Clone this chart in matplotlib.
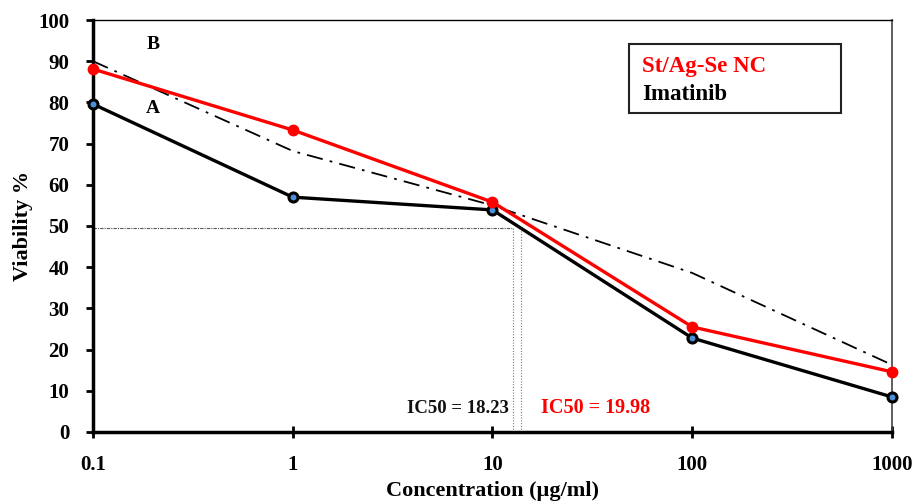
import matplotlib.pyplot as plt
import numpy as np

# concentrations (ug/ml) and viability values
conc = [0.1, 1, 10, 100, 1000]
nc_viability = [88.1, 73.3, 55.8, 25.5, 14.6]       # St/Ag-Se NC (red)
imatinib_viability = [79.6, 57.0, 53.9, 22.8, 8.5]  # Imatinib (black)
trend_viability = [90.0, 68.2, 55.0, 38.6, 16.3]    # dash-dot line

ic50_level = 49.5
ic50_x = [12.7, 13.9]
ic50_labels = ['IC50 = 18.23', 'IC50 = 19.98']

xticks = [0.1, 1, 10, 100, 1000]
xtick_labels = ['0.1', '1', '10', '100', '1000']
yticks = list(range(0, 101, 10))

plt.rcParams['font.family'] = ['Liberation Serif', 'DejaVu Serif']
plt.rcParams['font.weight'] = 'bold'

fig = plt.figure(figsize=(9.17, 5.04), dpi=100)
ax = fig.add_axes([0.1014, 0.1429, 0.8713, 0.8174])

# IC50 guide lines
ax.plot([conc[0], ic50_x[0]], [ic50_level, ic50_level], color='#555555',
        linestyle=(0, (3, 1, 1, 1)), linewidth=0.8)
for xv in ic50_x:
    ax.plot([xv, xv], [0, ic50_level], color='#777777',
            linestyle=(0, (1, 1.5)), linewidth=0.8)

ax.plot(conc, trend_viability, color='black', linewidth=1.3,
        linestyle=(0, (9, 4, 1.5, 4)), zorder=2)
ax.plot(conc, imatinib_viability, color='black', linewidth=2.4, marker='o',
        markersize=6.5, markerfacecolor='#4a90d9', markeredgecolor='black',
        markeredgewidth=2.2, zorder=3, clip_on=False)
ax.plot(conc, nc_viability, color='#ff0000', linewidth=2.4, marker='o',
        markersize=7.5, markerfacecolor='#ff0000', markeredgecolor='#ff0000',
        zorder=4, clip_on=False)

ax.set_xscale('log')
ax.set_xlim(0.1, 1000)
ax.set_ylim(0, 100)
ax.set_xticks(xticks)
ax.set_xticklabels(xtick_labels)
ax.minorticks_off()
ax.set_yticks(yticks)

ax.tick_params(axis='x', direction='inout', length=9, width=2, labelsize=15, pad=12)
ax.tick_params(axis='y', direction='out', length=5, width=2, labelsize=15, pad=12)
for lab in ax.get_xticklabels() + ax.get_yticklabels():
    lab.set_fontweight('bold')

for side in ['left', 'bottom']:
    ax.spines[side].set_linewidth(2.5)
ax.spines['top'].set_linewidth(1.0)
ax.spines['right'].set_linewidth(1.2)
ax.spines['right'].set_color('#444444')

ax.set_xlabel('Concentration (\u00b5g/ml)', fontsize=16, fontweight='bold')
ax.xaxis.set_label_coords(0.5, -0.12)
ax.set_ylabel('Viability %', fontsize=16, fontweight='bold', labelpad=4)

# labels in the plot
ax.text(0.2, 94.0, 'B', fontsize=14, fontweight='bold', ha='center', va='center')
ax.text(0.2, 78.6, 'A', fontsize=14, fontweight='bold', ha='center', va='center')
ax.text(12.1, 5.8, ic50_labels[0], fontsize=13.5, fontweight='bold', ha='right',
        va='center', color='#111111')
ax.text(17.5, 5.8, ic50_labels[1], fontsize=14.5, fontweight='bold', ha='left',
        va='center', color='#ff0000')

# legend box drawn as text
ax.text(0.687, 0.888, 'St/Ag-Se NC', transform=ax.transAxes, fontsize=16.5,
        fontweight='bold', color='#ff0000', va='center', ha='left')
ax.text(0.687, 0.820, 'Imatinib', transform=ax.transAxes, fontsize=16.5,
        fontweight='bold', color='black', va='center', ha='left')
box = plt.Rectangle((0.6708, 0.7748), 0.2653, 0.1675, transform=ax.transAxes,
                    fill=False, edgecolor='#222222', linewidth=1.5)
ax.add_patch(box)

fig.savefig('out.png', dpi=100)
